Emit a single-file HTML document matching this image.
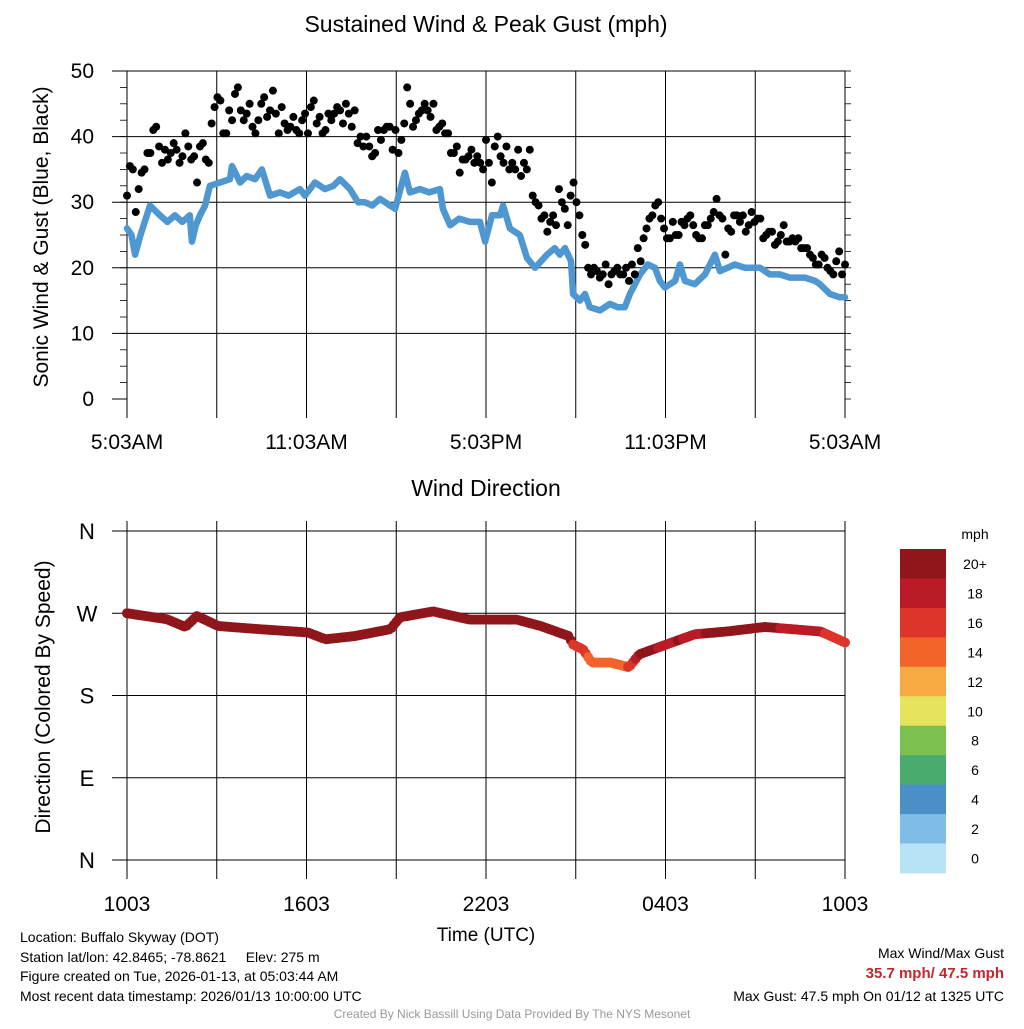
<!DOCTYPE html>
<html><head><meta charset="utf-8"><style>
body{margin:0;background:#fff}
svg text{font-family:"Liberation Sans",sans-serif;fill:#000}
</style></head><body>
<svg id="c" width="1024" height="1024" viewBox="0 0 1024 1024">
<text x="486" y="32" font-size="23" text-anchor="middle">Sustained Wind &amp; Peak Gust (mph)</text>
<text x="486" y="496" font-size="23" text-anchor="middle">Wind Direction</text>
<text transform="translate(48,237) rotate(-90)" font-size="21" text-anchor="middle">Sonic Wind &amp; Gust (Blue, Black)</text>
<text transform="translate(50,697) rotate(-90)" font-size="21" text-anchor="middle">Direction (Colored By Speed)</text>
<text x="486" y="941" font-size="19" text-anchor="middle">Time (UTC)</text>
<g id="topplot"></g>
<g id="botplot"></g>
<g id="cbar"></g>
<g font-size="14">
<text x="20" y="942">Location: Buffalo Skyway (DOT)</text>
<text x="20" y="962">Station lat/lon: 42.8465; -78.8621&#160;&#160;&#160;&#160;&#160;Elev: 275 m</text>
<text x="20" y="981">Figure created on Tue, 2026-01-13, at 05:03:44 AM</text>
<text x="20" y="1001">Most recent data timestamp: 2026/01/13 10:00:00 UTC</text>
</g>
<g font-size="14" text-anchor="end">
<text x="1004" y="958">Max Wind/Max Gust</text>
<text x="1004" y="978" font-weight="bold" style="fill:#c1272d" font-size="15">35.7 mph/ 47.5 mph</text>
<text x="1004" y="1001">Max Gust: 47.5 mph On 01/12 at 1325 UTC</text>
</g>
<text x="512" y="1018" font-size="12" text-anchor="middle" style="fill:#999">Created By Nick Bassill Using Data Provided By The NYS Mesonet</text>
</svg>
<script>
const windHours=[0,0.15,0.27,0.45,0.77,1.1,1.35,1.6,1.85,2.1,2.17,2.3,2.44,2.61,2.77,3.11,3.44,3.51,3.78,4.0,4.28,4.51,4.78,5.11,5.4,5.78,5.95,6.28,6.62,6.9,7.12,7.45,7.72,7.95,8.2,8.46,8.79,8.96,9.29,9.46,9.79,10.1,10.46,10.56,10.8,11.1,11.46,11.8,11.97,12.2,12.47,12.57,12.8,13.13,13.37,13.64,14.04,14.3,14.47,14.64,14.84,14.91,15.14,15.31,15.47,15.81,16.14,16.41,16.64,16.81,17.15,17.41,17.65,17.81,17.98,18.32,18.48,18.65,18.98,19.32,19.65,19.82,20.32,20.66,21.16,21.49,21.82,22.16,22.66,23.0,23.16,23.5,23.83,24];
const windValues=[26,25,22,25,29.5,28,27,28,27,28,24,26.5,28,29.5,32.5,33,33.5,35.5,33,34,33.5,35,31,31.5,31,32,31,33,32,32.5,33.5,32,30,30,29.5,30.5,29.5,29,34.5,31.5,32,31.5,32,29,26.5,27.5,27,27,24,28,28,29.5,26,25,21.5,20,22,23,22,23,21,16,15,16,14,13.5,14.5,14,14,16,19,20.5,20,18,17,18,20.5,18,17.5,19,22,19.5,20.5,20,20,19,19,18.5,18.5,18,17.5,16,15.5,15.5];
const gustValues=[31,35.5,35,28.5,32,34.5,35,37.5,37.5,41,41.5,38.5,36,38,36.5,37.5,39,38,36,37,40.5,38.5,36.5,37,33,38.5,39,36.5,36,42,44.5,46,45.5,40.5,40.5,44,42.5,46.5,47.5,44,42.5,43.5,45,41.5,40.5,42.5,45,46,43,44,47,43.5,40.5,44.5,42,41,41.5,43,41,40.5,42.5,43.5,40.5,44.5,45.5,42,43,40.5,41,43.5,42.5,43.5,44.5,44,42,45,43.5,41.5,44,39,40,38.5,40,38.5,37,37.5,41,39.5,41,41.5,41.5,38,41,37.5,39.5,42,47.5,45,41.5,42.5,43.5,44,45,44,43,45,41,41.5,42,40.5,40.5,37.5,37.5,38.5,34.5,36.5,36.5,37,38,36,37,36,35,39.5,36,33,38.5,40,37,36,38.5,35,36,35,38,34,36,35,38,31,30,29.5,27.5,28,25.5,27,28,26.5,32,30,29,26.5,31,33,30,28,25,23.5,20,19,20,19.5,18.5,19,20.5,17.5,19,19.5,20,19,19,20,18,20.5,19,23,21,24.5,26,27.5,28,29.5,30,27.5,26,24.5,24.5,27,25,25,27,26.5,27.5,28,26.5,25,24.5,24.5,26.5,26.5,27.5,28.5,30.5,28,27.5,22,26,25.5,28,28,27,28,25.5,26.5,28.5,27,27.5,27.5,24.5,25,25.5,25.5,23.5,24,25,26.5,24,24,24.5,24,24.5,23,23,23,22,21.5,20.5,20.5,22,21.5,20,19.5,19,21,22.5,19,20.5];
const dirHours=[0,0.4,1.34,1.95,2.34,3.05,4.46,6.04,6.64,7.6,8.8,9.13,10.23,11.46,13.03,13.83,14.77,14.9,15.24,15.54,16.17,16.78,17.12,17.88,18.98,20.04,21.32,23.19,24];
const dirValues=[270,268,263.4,255,267,256,252.5,249,241.5,245,252.5,265.6,272,263,263,256,245,236,230.5,216,216,211,225,234,247,250,255,250,238];
const topYTicks=[0,10,20,30,40,50];
const topXLabels=["5:03AM","11:03AM","5:03PM","11:03PM","5:03AM"];
const botXLabels=["1003","1603","2203","0403","1003"];
const dirLabels=["N","E","S","W","N"];
const dirTickVals=[0,90,180,270,360];
const cbarLabels=["20+","18","16","14","12","10","8","6","4","2","0"];
const cbarColors=["#8f161b","#bb1b26","#dd3529","#f26429","#f7a944","#e6e35d","#7cc14f","#4aab6f","#4a8fc5","#7fbce6","#b8e3f7"];

const NS="http://www.w3.org/2000/svg";
function mk(parent,tag,attrs){const e=document.createElementNS(NS,tag);for(const k in attrs)e.setAttribute(k,attrs[k]);parent.appendChild(e);return e;}
const X0=127,X1=845;
const xs=h=>X0+(X1-X0)*h/24;
const yTop=v=>399-(399-71)*v/50;
const yDir=d=>860-(860-531)*d/360;

const topG=document.getElementById('topplot');
const botG=document.getElementById('botplot');

for(let i=0;i<=8;i++){const x=xs(i*3);
 let l=mk(topG,'line',{x1:x,x2:x,y1:71,y2:418,stroke:'#000','stroke-width':1});
 
 }
topYTicks.forEach(v=>{const y=yTop(v);
 if(v>0){let g=mk(topG,'line',{x1:112,x2:X1,y1:y,y2:y,stroke:'#000','stroke-width':1});
 
 }
 else{mk(topG,'line',{x1:112,x2:127,y1:y,y2:y,stroke:'#000'});}
 let t=mk(topG,'text',{x:94,y:y+7,'font-size':21,'text-anchor':'end'});t.textContent=v;
 
 });
for(let v=0;v<=52;v+=2.5){const y=yTop(v);if(y<66)continue;
 mk(topG,'line',{x1:X1,x2:X1+6,y1:y,y2:y,stroke:'#000','stroke-width':0.8});
 mk(topG,'line',{x1:120,x2:127,y1:y,y2:y,stroke:'#000','stroke-width':0.8});}
topXLabels.forEach((s,i)=>{let t=mk(topG,'text',{x:xs(i*6),y:449,'font-size':21,'text-anchor':'middle'});t.textContent=s;
 
 });
let d='';windHours.forEach((h,i)=>{d+=(i?'L':'M')+xs(h).toFixed(1)+','+yTop(windValues[i]).toFixed(1);});
let wl=mk(topG,'path',{d:d,fill:'none',stroke:'#4f97d1','stroke-width':6.5,'stroke-linejoin':'round','stroke-linecap':'round'});


const nG=gustValues.length;
gustValues.forEach((v,i)=>{let c=mk(topG,'circle',{cx:xs(24*i/(nG-1)),cy:yTop(v),r:4,fill:'#000'});
 
 });

for(let i=0;i<=8;i++){const x=xs(i*3);
 let l=mk(botG,'line',{x1:x,x2:x,y1:521,y2:879,stroke:'#000','stroke-width':1});
 
 }
dirTickVals.forEach((v,i)=>{const y=yDir(v);
 let g=mk(botG,'line',{x1:112,x2:X1,y1:y,y2:y,stroke:'#000','stroke-width':1});
 
 
 let t=mk(botG,'text',{x:87,y:y+8,'font-size':22,'text-anchor':'middle'});t.textContent=dirLabels[i];
 
 });
botXLabels.forEach((s,i)=>{let t=mk(botG,'text',{x:xs(i*6),y:911,'font-size':21,'text-anchor':'middle'});t.textContent=s;
 
 });
function interp(hs,vs,h){for(let i=1;i<hs.length;i++){if(h<=hs[i]){const f=(h-hs[i-1])/(hs[i]-hs[i-1]);return vs[i-1]+f*(vs[i]-vs[i-1]);}}return vs[vs.length-1];}
function colorFor(s){let idx=Math.round(s/2);if(idx>10)idx=10;if(idx<0)idx=0;return cbarColors[10-idx];}
for(let k=0;k<=288;k++){const h=24*k/288;
 const dv=interp(dirHours,dirValues,h),sp=interp(windHours,windValues,h);
 let c=mk(botG,'circle',{cx:xs(h),cy:yDir(dv),r:5,fill:colorFor(sp)});
 
 }

const cb=document.getElementById('cbar');
let mt=mk(cb,'text',{x:975,y:539,'font-size':14,'text-anchor':'middle'});mt.textContent='mph';
cbarColors.forEach((col,i)=>{const y=549+i*29.45;
 let r=mk(cb,'rect',{x:900,y:y,width:46,height:29.9,fill:col});
 
 
 let t=mk(cb,'text',{x:975,y:y+20,'font-size':14,'text-anchor':'middle'});t.textContent=cbarLabels[i];
 
 });
</script>
</body></html>
